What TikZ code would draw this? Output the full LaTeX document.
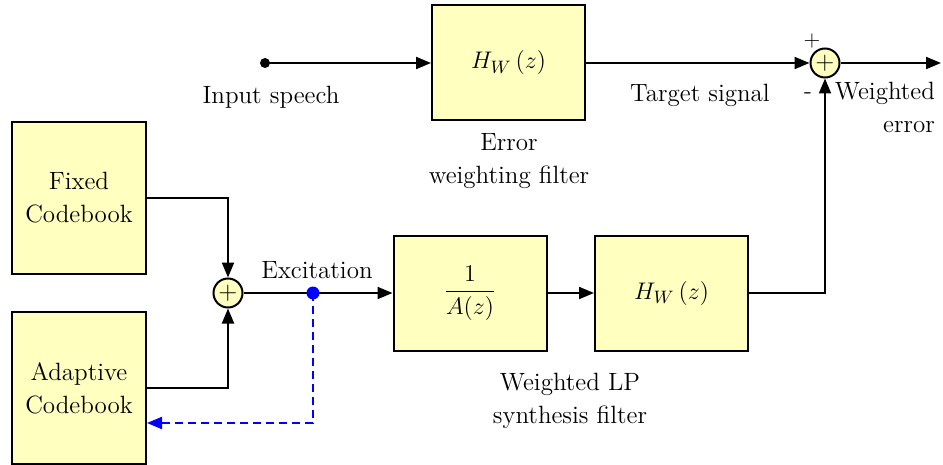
\documentclass[tikz,border=0pt]{standalone}
\usepackage{amsmath}
\usetikzlibrary{arrows.meta}
\definecolor{boxfill}{RGB}{255,255,192}
\definecolor{dblue}{RGB}{0,0,255}
\newcommand{\HWz}{$H_{W}\,(z)$}
\begin{document}
\begin{tikzpicture}[x=0.5pt,y=-0.5pt,
  every node/.style={font=\fontsize{12.5}{16.5}\selectfont},
  blk/.style={draw, line width=1pt, fill=boxfill, minimum width=76.5pt, minimum height=57.5pt, inner sep=0pt},
  cb/.style={draw, line width=1pt, fill=boxfill, minimum width=67pt, minimum height=76pt, align=center, inner sep=0pt},
  sumc/.style={draw, circle, line width=1pt, fill=boxfill, minimum size=14.5pt, inner sep=0pt},
  wire/.style={line width=1pt},
  arr/.style={wire, -{Triangle[length=7.5pt,width=6pt]}},
  lbl/.style={align=center}
]
\useasboundingbox (0,0) rectangle (943,465);
\node[blk] (hw1) at (508.5,63) {\HWz};
\node[blk] (inv) at (470,293) {$\dfrac{1}{A(z)}$};
\node[blk] (hw2) at (671.5,293) {\HWz};
\node[cb] (fc) at (79,198) {Fixed\\Codebook};
\node[cb] (ac) at (79,388) {Adaptive\\Codebook};
\node[sumc] (s1) at (825,63) {+};
\node[sumc] (s2) at (228,293) {+};
\node[circle, fill, inner sep=0pt, minimum size=5pt] (in) at (265,63) {};
\coordinate (out) at (941,63);

\draw[arr] (in.center) -- (hw1);
\draw[arr] (hw1) -- (s1);
\draw[arr] (s1) -- (out);
\draw[arr] (hw2.east) -| (s1.south);
\draw[arr] (fc.east) -| (s2.north);
\draw[arr] (ac.east) -| (s2.south);
\draw[arr] (s2) -- (inv);
\draw[arr] (inv) -- (hw2);
\node[circle, fill=dblue, inner sep=0pt, minimum size=6.5pt] (ex) at (313,293) {};
\draw[wire, dblue, dash pattern=on 4pt off 2.5pt, -{Triangle[length=7.5pt,width=6pt]}] (ex.center) |- ([yshift=-17.5pt]ac.east);

\node[lbl] (l1) at (271,97) {Input speech};
\node[lbl] (l2) at (700,95) {Target signal};
\node[lbl] (l3) at (509,161.5) {Error\\weighting filter};
\node[font=\fontsize{11}{11}\selectfont] (lp) at (812,41) {+};
\node[font=\fontsize{12}{12}\selectfont] (lm) at (808,96) {-};
\node[anchor=east, align=right] (l4) at (942,107) {Weighted\\error};
\node[lbl] (l5) at (317,270) {Excitation};
\node[lbl] (l6) at (570,401) {Weighted LP\\synthesis filter};
\end{tikzpicture}
\end{document}
